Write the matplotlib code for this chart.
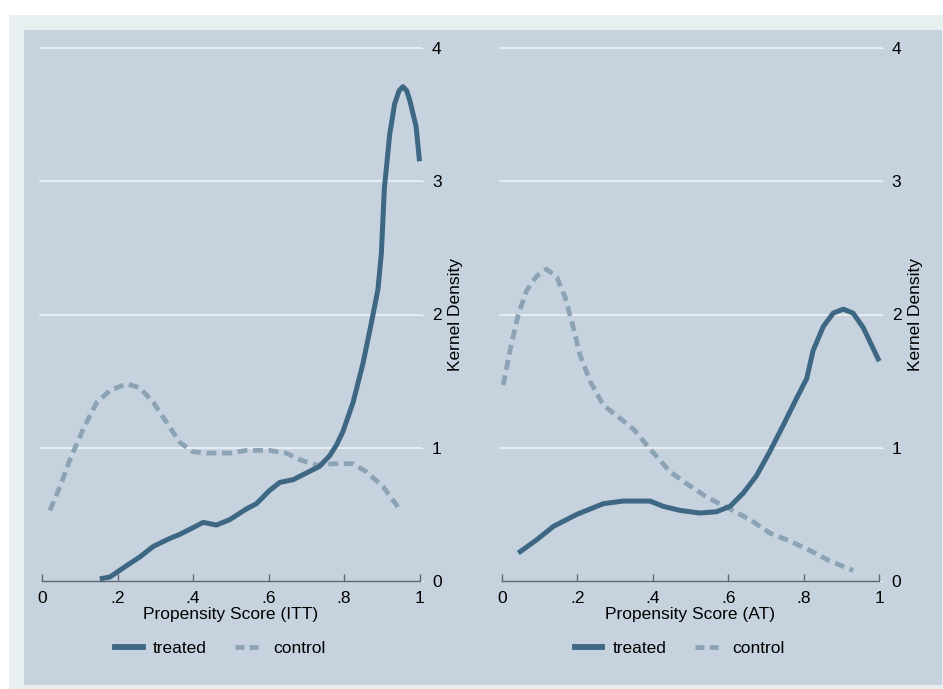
import numpy as np
import matplotlib.pyplot as plt
from matplotlib.patches import Rectangle
from matplotlib.lines import Line2D

plt.rcParams['font.family'] = ['Liberation Sans', 'DejaVu Sans']

# ----------------------------
# Data
# ----------------------------
itt_treated_x = [0.153, 0.18, 0.224, 0.259, 0.295, 0.339, 0.365, 0.40, 0.427, 0.462, 0.497,
                 0.541, 0.568, 0.603, 0.63, 0.665, 0.70, 0.735, 0.762, 0.78, 0.797, 0.824,
                 0.85, 0.872, 0.89, 0.899, 0.907, 0.921, 0.934, 0.946, 0.956, 0.966, 0.974,
                 0.991, 1.0]
itt_treated_y = [0.016, 0.03, 0.115, 0.18, 0.26, 0.32, 0.35, 0.40, 0.44, 0.42, 0.46,
                 0.54, 0.58, 0.68, 0.74, 0.76, 0.81, 0.86, 0.94, 1.02, 1.12, 1.34,
                 1.63, 1.93, 2.19, 2.46, 2.95, 3.35, 3.58, 3.68, 3.71, 3.68, 3.61,
                 3.41, 3.15]

itt_control_x = [0.021, 0.048, 0.074, 0.109, 0.145, 0.18, 0.224, 0.259, 0.295, 0.33, 0.365,
                 0.40, 0.436, 0.497, 0.541, 0.603, 0.647, 0.683, 0.727, 0.771, 0.824,
                 0.859, 0.903, 0.947]
itt_control_y = [0.53, 0.71, 0.91, 1.14, 1.34, 1.43, 1.48, 1.45, 1.34, 1.19, 1.04,
                 0.97, 0.96, 0.96, 0.98, 0.98, 0.96, 0.91, 0.87, 0.88, 0.88,
                 0.82, 0.71, 0.54]

at_treated_x = [0.044, 0.093, 0.137, 0.199, 0.269, 0.322, 0.393, 0.428, 0.472, 0.525, 0.569,
                0.605, 0.64, 0.675, 0.71, 0.746, 0.781, 0.808, 0.825, 0.852, 0.878,
                0.905, 0.931, 0.958, 1.0]
at_treated_y = [0.21, 0.31, 0.41, 0.50, 0.58, 0.60, 0.60, 0.56, 0.53, 0.51, 0.52,
                0.56, 0.66, 0.79, 0.97, 1.17, 1.37, 1.52, 1.73, 1.91, 2.01,
                2.04, 2.01, 1.90, 1.65]

at_control_x = [0.004, 0.022, 0.044, 0.066, 0.093, 0.119, 0.146, 0.168, 0.19, 0.207, 0.234,
                0.269, 0.305, 0.349, 0.393, 0.446, 0.49, 0.543, 0.605, 0.658, 0.71,
                0.763, 0.816, 0.869, 0.931]
at_control_y = [1.47, 1.73, 2.0, 2.18, 2.29, 2.34, 2.28, 2.13, 1.90, 1.70, 1.50,
                1.32, 1.24, 1.14, 0.99, 0.82, 0.73, 0.63, 0.54, 0.46, 0.36,
                0.30, 0.23, 0.15, 0.08]

x_ticks = [0, 0.2, 0.4, 0.6, 0.8, 1]
x_ticklabels = ["0", ".2", ".4", ".6", ".8", "1"]
y_ticks = [0, 1, 2, 3, 4]
y_ticklabels = ["0", "1", "2", "3", "4"]

panels = [
    ("Propensity Score (ITT)", itt_treated_x, itt_treated_y, itt_control_x, itt_control_y),
    ("Propensity Score (AT)", at_treated_x, at_treated_y, at_control_x, at_control_y),
]

# ----------------------------
# Style
# ----------------------------
W, H = 943, 689
C_TREATED = "#3e6783"
C_CONTROL = "#8ca2b5"
C_PANEL = "#c6d3df"
C_FRAME = "#e8eff1"
C_GRID = "#eef2f6"
FS = 12.5

fig = plt.figure(figsize=(W / 100, H / 100), dpi=100, facecolor="white")
fig.patches.append(Rectangle((9 / W, 0), 1, (H - 15) / H, transform=fig.transFigure,
                             facecolor=C_FRAME, edgecolor="none", zorder=-2))
fig.patches.append(Rectangle((24 / W, 4 / H), (942 - 24) / W, (685 - 30) / H,
                             transform=fig.transFigure, facecolor=C_PANEL,
                             edgecolor="none", zorder=-1))

# pixel layout of each plot region
y0_px, y_unit = 581, 133.25
ymax = 4.1
left_px = [42, 501.7]
width_px = 377.5
ax_h_px = ymax * y_unit

for i, (xlab, tx, ty, cx, cy) in enumerate(panels):
    ax = fig.add_axes([left_px[i] / W, (H - y0_px) / H, width_px / W, ax_h_px / H])
    ax.set_facecolor("none")
    ax.set_xlim(0, 1)
    ax.set_ylim(0, ymax)

    ax.plot(tx, ty, color=C_TREATED, lw=3.6, solid_capstyle="butt",
            solid_joinstyle="round", clip_on=False, zorder=3)
    ax.plot(cx, cy, color=C_CONTROL, lw=3.4, dashes=(2.1, 1.2), clip_on=False, zorder=2)

    for yt in y_ticks[1:]:
        ax.plot([-0.005, 1.005], [yt, yt], color=C_GRID, lw=1.2, clip_on=False, zorder=1)

    for s in ["left", "top", "right"]:
        ax.spines[s].set_visible(False)
    ax.spines["bottom"].set_color("#5d6a75")
    ax.spines["bottom"].set_linewidth(1.0)

    ax.set_xticks(x_ticks)
    ax.set_xticklabels(x_ticklabels, fontsize=FS)
    ax.tick_params(axis="x", direction="in", length=5, width=1, color="#5d6a75", pad=7)

    ax.yaxis.tick_right()
    ax.set_yticks(y_ticks)
    ax.set_yticklabels(y_ticklabels, fontsize=FS)
    ax.tick_params(axis="y", length=3, color=C_GRID, pad=6)
    ax.yaxis.set_label_position("right")
    ax.set_ylabel("Kernel Density", fontsize=FS)
    ax.yaxis.set_label_coords(1.075, 2.0 / ymax)

    ax.set_xlabel(xlab, fontsize=FS, labelpad=1)

    handles = [Line2D([], [], color=C_TREATED, lw=4.2),
               Line2D([], [], color=C_CONTROL, lw=3.4, dashes=(1.9, 1.1))]
    ax.legend(handles, ["treated", "control"], loc="center",
              bbox_to_anchor=(0.472, -67 / ax_h_px), ncol=2, frameon=False, fontsize=FS,
              handlelength=1.6, handletextpad=0.6, columnspacing=1.6)

fig.savefig("out.png", dpi=100, facecolor="white")
